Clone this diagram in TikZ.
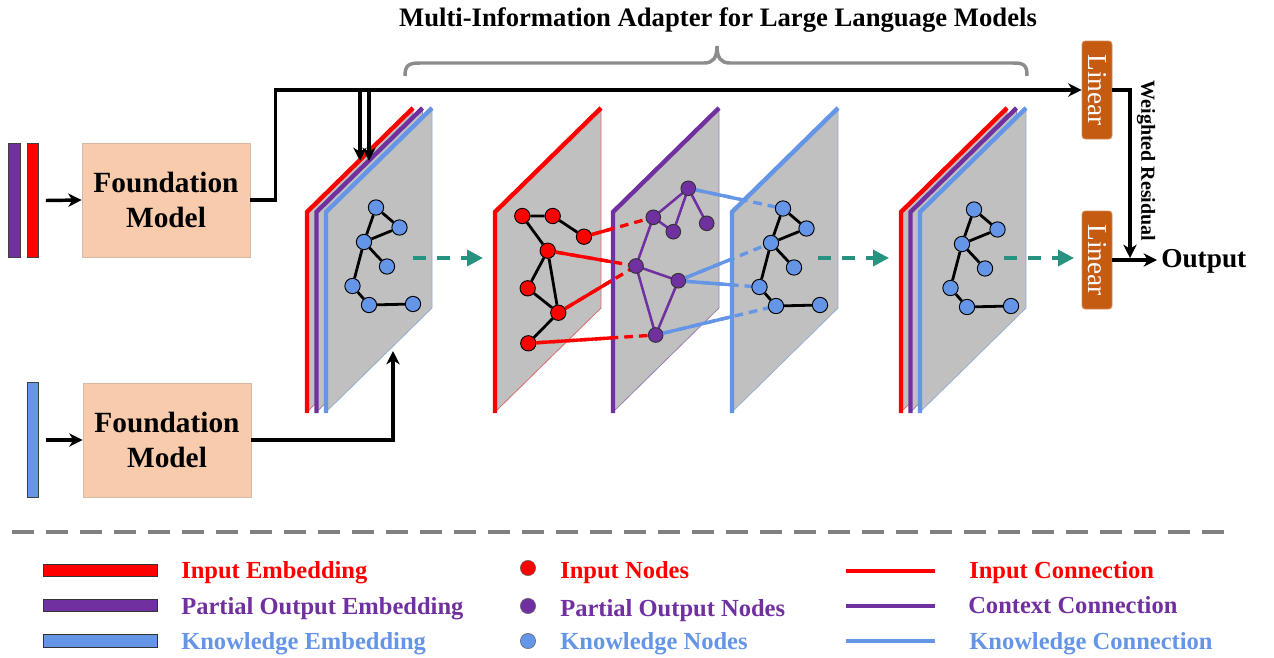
\documentclass[tikz,border=0pt]{standalone}
\usepackage{fontspec}
\setmainfont{Liberation Serif}
\usetikzlibrary{arrows.meta,calc}
\definecolor{inred}{RGB}{255,0,0}
\definecolor{popurple}{RGB}{112,48,160}
\definecolor{kblue}{RGB}{100,149,230}
\definecolor{pgray}{RGB}{192,192,192}
\definecolor{tealc}{RGB}{38,146,128}
\definecolor{peach}{RGB}{248,203,173}
\definecolor{peachb}{RGB}{215,185,165}
\definecolor{orng}{RGB}{197,90,17}
\definecolor{brgray}{RGB}{140,140,140}
\definecolor{sepgray}{RGB}{128,128,128}

\newcommand{\mylayer}[2]{%
  \fill[pgray] (#1,412) -- (#1,212) -- (#1+106,108) -- (#1+106,308) -- cycle;
  \draw[#2!45!pgray, line width=0.6pt] (#1,412) -- (#1+106,308) -- (#1+106,108);
  \draw[#2, line width=3.3pt] (#1,413) -- (#1,212) -- (#1+106,108);
}
\newcommand{\kgraph}[3]{%
  \foreach \nm/\px/\py in {1/376/207.5, 2/399.5/227.5, 3/364/242, 4/387/266.5, 5/352.5/286, 6/369/305, 7/413/304}
    {\node[knode] (#1\nm) at (\px+#2,\py+#3) {};}
  \draw[gedge] (#11) -- (#12) (#11) -- (#13) (#13) -- (#12) (#13) -- (#14)
               (#13) -- (#15) (#15) -- (#16) (#16) -- (#17);
}

\begin{document}
\begin{tikzpicture}[x=0.75pt,y=-0.75pt,
  conn/.style={line width=2.6pt, -{Stealth[length=10pt,width=10pt,inset=3pt]}},
  gedge/.style={line width=2.1pt, black},
  pedge/.style={line width=1.9pt, popurple},
  knode/.style={circle, fill=kblue, draw=black, line width=0.7pt, minimum size=11.5pt, inner sep=0pt},
  rnode/.style={knode, fill=inred},
  pnode/.style={knode, fill=popurple, draw=black!80, minimum size=11pt},
  redc/.style={inred, line width=2.5pt},
  bluec/.style={kblue, line width=2.5pt},
  dsh/.style={dash pattern=on 6.5pt off 4.5pt},
  tealarr/.style={tealc, line width=2.7pt, dash pattern=on 10pt off 8pt, -{Triangle[length=12pt,width=12pt]}},
  fmbox/.style={rectangle, fill=peach, draw=peachb, line width=0.6pt, minimum width=126pt, minimum height=85.5pt, align=center, font=\fontsize{22}{26}\selectfont\bfseries},
  linbox/.style={rectangle, rounded corners=2.5pt, fill=orng, draw=orng!70!white, line width=0.6pt, minimum width=22.5pt, minimum height=73.5pt, inner sep=0pt},
  ltext/.style={anchor=base west, inner sep=0pt, font=\fontsize{18.4}{22}\selectfont\bfseries},
  legbar/.style={rectangle, draw=black!80, line width=0.7pt, minimum width=86pt, minimum height=9.5pt, inner sep=0pt},
  vbar/.style={rectangle, draw=black!75, line width=0.7pt, minimum width=8.5pt, minimum height=86pt, inner sep=0pt},
  ]
\useasboundingbox (0,0) rectangle (1274,657);

% ---------- title and brace ----------
\node[font=\fontsize{20}{24}\selectfont\bfseries, anchor=base, inner sep=0pt] (title) at (718,26) {Multi-Information Adapter for Large Language Models};
\draw[brgray, line width=2.6pt] (405,76) .. controls (405,65) and (409,63) .. (420,63) -- (704,63)
   .. controls (713,63) and (717,58) .. (717,46) .. controls (717,58) and (721,63) .. (730,63)
   -- (1013,63) .. controls (1024,63) and (1027,65) .. (1027,76);

% ---------- inputs ----------
\node[vbar, fill=popurple] (pbar) at (14.5,200.5) {};
\node[vbar, fill=inred] (rbar) at (33,200.5) {};
\node[vbar, fill=kblue] (bbar) at (33,440) {};
\node[fmbox] (fm1) at (166,200) {Foundation\\Model};
\node[fmbox] (fm2) at (167,440) {Foundation\\Model};
\draw[conn] ([xshift=5pt]rbar.east) -- (fm1.west);
\draw[conn] ([xshift=5pt]bbar.east) -- (fm2.west);

% ---------- Linear boxes ----------
\node[linbox] (lin1) at (1097,90) {};
\node[linbox] (lin2) at (1097,260) {};
\node[rotate=-90, text=white, font=\fontsize{20.5}{24}\selectfont] (lin1t) at (lin1.center) {Linear};
\node[rotate=-90, text=white, font=\fontsize{20.5}{24}\selectfont] (lin2t) at (lin2.center) {Linear};

% ---------- panel 1 stack ----------
\mylayer{307}{inred}
\mylayer{316.5}{popurple}
\mylayer{326}{kblue}
\kgraph{a}{0}{0}

% connectors into panel 1
\coordinate (drop1) at (360,161);
\coordinate (drop2) at (369,161);
\coordinate (bin) at (393,351);
\draw[conn] (fm1.east) -- ++(25,0) |- (lin1.west);
\draw[conn] (drop1 |- lin1.west) -- (drop1);
\draw[conn] (drop2 |- lin1.west) -- (drop2);
\draw[conn] (fm2.east) -| (bin);

\coordinate (t1a) at (413,258); \coordinate (t1b) at (483,258);
\draw[tealarr] (t1a) -- (t1b);

% ---------- positions of later nodes ----------
\coordinate (pc1) at (688.3,188.3);
\coordinate (pc2) at (653.3,217.3);
\coordinate (pc3) at (673.3,231.7);
\coordinate (pc4) at (706.7,223.3);
\coordinate (pc5) at (636,266);
\coordinate (pc6) at (678.3,280.7);
\coordinate (pc7) at (655.7,335);
\coordinate (kc1) at (783,208.5);
\coordinate (kc3) at (771,243);
\coordinate (kc5) at (759.5,287);
\coordinate (kc6) at (776,306);

% ---------- panel 2 (input) ----------
\mylayer{495}{inred}
\node[rnode] (r1) at (522.3,216) {};
\node[rnode] (r2) at (552.7,216) {};
\node[rnode] (r3) at (584,236.7) {};
\node[rnode] (r4) at (547.7,250.7) {};
\node[rnode] (r5) at (527.7,288.3) {};
\node[rnode] (r6) at (558.3,312.7) {};
\node[rnode] (r7) at (528.3,343.3) {};
\draw[gedge] (r1) -- (r2) (r2) -- (r3) (r1) -- (r4) (r4) -- (r5) (r4) -- (r6) (r5) -- (r6) (r6) -- (r7);
\draw[redc] (r3) -- (pc2) (r4) -- (pc5) (r6) -- (pc5) (r7) -- (pc7);

% ---------- panel 3 (partial output) ----------
\mylayer{613}{popurple}
\draw[redc, dsh] (r3) -- (pc2) (r4) -- (pc5) (r6) -- (pc5) (r7) -- (pc7);
\draw[pedge] (pc1) -- (pc2) (pc1) -- (pc3) (pc1) -- (pc4) (pc2) -- (pc3) (pc2) -- (pc5) (pc5) -- (pc6) (pc5) -- (pc7) (pc6) -- (pc7);
\foreach \i in {1,...,7} {\node[pnode] (p\i) at (pc\i) {};}
\draw[bluec] (p1) -- (kc1) (p6) -- (kc3) (p6) -- (kc5) (p7) -- (kc6);

% ---------- panel 4 (knowledge) ----------
\mylayer{732}{kblue}
\draw[bluec, dsh] (p1) -- (kc1) (p6) -- (kc3) (p6) -- (kc5) (p7) -- (kc6);
\kgraph{k}{407}{1}

\coordinate (t2a) at (818,258); \coordinate (t2b) at (889,258);
\draw[tealarr] (t2a) -- (t2b);

% ---------- panel 5 stack ----------
\mylayer{901}{inred}
\mylayer{910.5}{popurple}
\mylayer{920}{kblue}
\kgraph{e}{598}{2}

\coordinate (t3a) at (1004,258); \coordinate (t3b) at (1074,258);
\draw[tealarr] (t3a) -- (t3b);

% ---------- output side ----------
\coordinate (wrend) at (1130,258);
\draw[conn] (lin1.east) -| (wrend);
\node[font=\fontsize{20.5}{24}\selectfont\bfseries, anchor=west, inner sep=3pt] (out) at (1157,261) {Output};
\draw[conn] (lin2.east) -- (lin2.east -| out.west);
\node[rotate=-90, font=\fontsize{15}{18}\selectfont\bfseries, inner sep=0pt] (wr) at (1146,161) {Weighted Residual};

% ---------- separator ----------
\coordinate (sepL) at (12,532); \coordinate (sepR) at (1236,532);
\draw[sepgray, line width=2.8pt, dash pattern=on 16.5pt off 9pt] (sepL) -- (sepR);

% ---------- legend ----------
\node[legbar, fill=inred] (lb1) at (100.5,570.5) {};
\node[legbar, fill=popurple] (lb2) at (100.5,605.5) {};
\node[legbar, fill=kblue] (lb3) at (100.5,641) {};
\node[ltext, text=inred] (lt1) at (181,578) {Input Embedding};
\node[ltext, text=popurple] (lt2) at (181,614) {Partial Output Embedding};
\node[ltext, text=kblue] (lt3) at (181,649) {Knowledge Embedding};

\node[rnode, draw=black!60, line width=0.4pt] (ld1) at (528,568) {};
\node[pnode, draw=black!60, line width=0.4pt, minimum size=11.5pt] (ld2) at (528,606) {};
\node[knode, draw=black!60, line width=0.4pt] (ld3) at (528,641) {};
\node[ltext, text=inred] (ln1) at (560,578) {Input Nodes};
\node[ltext, text=popurple] (ln2) at (560,616) {Partial Output Nodes};
\node[ltext, text=kblue] (ln3) at (560,649) {Knowledge Nodes};

\coordinate (l1a) at (846,571); \coordinate (l1b) at (935,571);
\coordinate (l2a) at (846,606); \coordinate (l2b) at (935,606);
\coordinate (l3a) at (846,641); \coordinate (l3b) at (935,641);
\draw[inred, line width=3.2pt] (l1a) -- (l1b);
\draw[popurple, line width=3.2pt] (l2a) -- (l2b);
\draw[kblue, line width=3.2pt] (l3a) -- (l3b);
\node[ltext, text=inred] (lc1) at (969,578) {Input Connection};
\node[ltext, text=popurple] (lc2) at (968,613) {Context Connection};
\node[ltext, text=kblue] (lc3) at (969,649) {Knowledge Connection};
\end{tikzpicture}
\end{document}
